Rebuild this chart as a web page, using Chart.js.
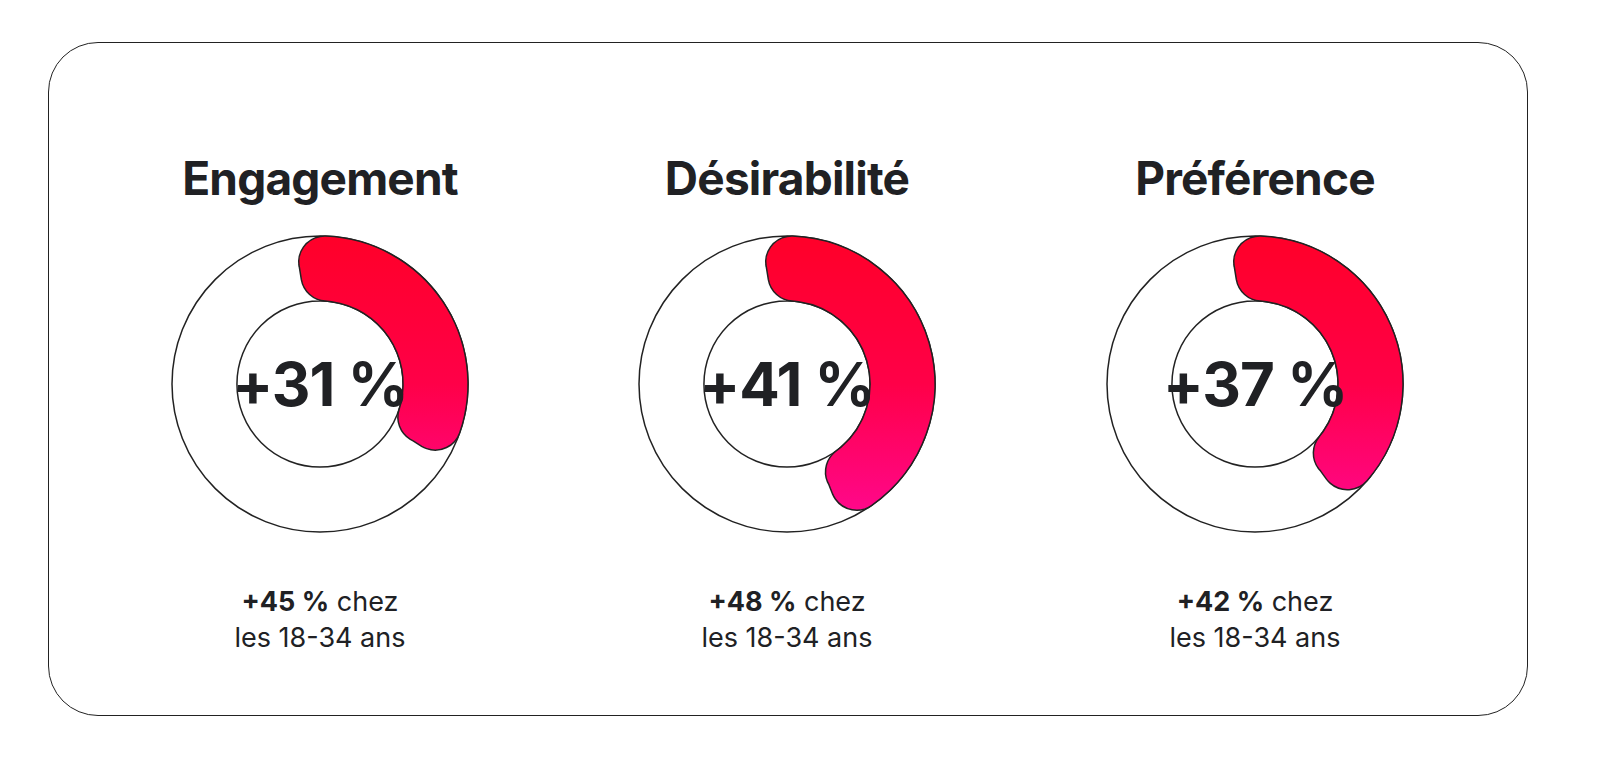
<!DOCTYPE html>
<html lang="fr">
<head>
<meta charset="UTF-8">
<title>Engagement, Désirabilité, Préférence</title>
<script src="https://cdn.jsdelivr.net/npm/chart.js"></script>
<style>
    body { margin: 0; background: #fff; font-family: "Inter", "Roboto", sans-serif; color: #202124; }
    #frame { position: absolute; left: 48px; top: 42px; width: 1478px; height: 672px; border: 1.5px solid #222; border-radius: 50px; }
    .panel { position: absolute; top: 0; width: 340px; }
    .title { position: absolute; top: 150px; width: 340px; text-align: center; font-size: 46px; font-weight: 700; letter-spacing: -0.8px; }
    .box { position: absolute; top: 214px; left: 0; width: 340px; height: 340px; }
    .box canvas { position: absolute; left: 0; top: 0; }
    .value { position: absolute; top: 214px; width: 340px; height: 340px; line-height: 340px; text-align: center; font-size: 60px; font-weight: 700; letter-spacing: -1px; }
    .note { position: absolute; top: 584px; width: 340px; text-align: center; font-size: 27px; line-height: 36px; }
</style>
</head>
<body>
<div id="frame"></div>
<div id="panels"></div>

<script>
    const categories = ['Engagement', 'Désirabilité', 'Préférence'];
    const values = [31, 41, 37];
    const youngValues = [45, 48, 42];
    const centers = [320, 787, 1255];
    const capExtra = 5.5; // the round ends stick out past the value

    const holder = document.getElementById('panels');

    function arcGradient(ctx) {
        if (ctx.dataIndex === 1) return 'rgba(0,0,0,0)';
        const area = ctx.chart.chartArea;
        if (!area) return '#ff0030';
        const g = ctx.chart.ctx.createLinearGradient(0, area.top, 0, area.bottom);
        g.addColorStop(0, '#ff0024');
        g.addColorStop(0.5, '#ff0048');
        g.addColorStop(1, '#ff0aa0');
        return g;
    }

    categories.forEach((name, i) => {
        const panel = document.createElement('div');
        panel.className = 'panel';
        panel.style.left = (centers[i] - 170) + 'px';
        panel.innerHTML = `
            <div class="title">${name}</div>
            <div class="box"><canvas id="ring${i}" width="340" height="340"></canvas><canvas id="arc${i}" width="340" height="340"></canvas></div>
            <div class="value">+${values[i]} %</div>
            <div class="note"><b>+${youngValues[i]} %</b> chez<br>les 18-34 ans</div>`;
        holder.appendChild(panel);

        const base = {
            responsive: false,
            animation: false,
            radius: 148,
            cutout: 95,
            plugins: { legend: { display: false }, tooltip: { enabled: false } },
            layout: { padding: 0 }
        };

        new Chart(document.getElementById('ring' + i), {
            type: 'doughnut',
            data: { labels: [name], datasets: [{ data: [1], backgroundColor: '#fff', borderColor: '#222', borderWidth: 1.5 }] },
            options: base
        });

        new Chart(document.getElementById('arc' + i), {
            type: 'doughnut',
            data: {
                labels: [name, ''],
                datasets: [{
                    data: [values[i] + capExtra, 100 - values[i] - capExtra],
                    backgroundColor: arcGradient,
                    borderColor: ['#222', 'rgba(0,0,0,0)'],
                    borderWidth: [1.5, 0],
                    borderRadius: [26, 0]
                }]
            },
            options: Object.assign({}, base, { rotation: -10 })
        });
    });
</script>
</body>
</html>
